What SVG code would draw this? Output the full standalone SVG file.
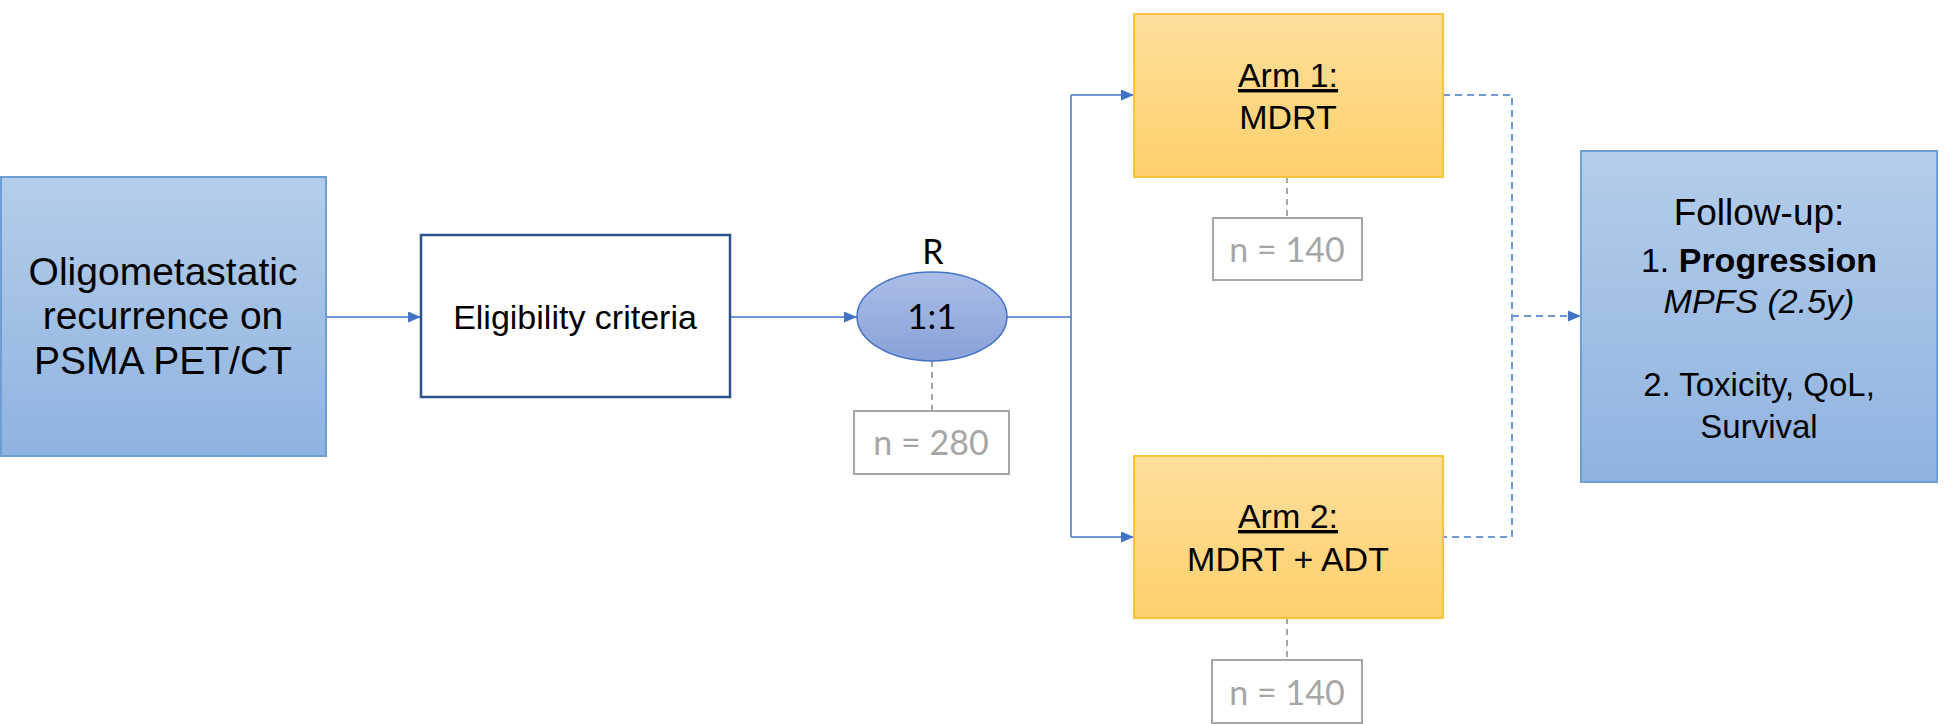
<svg xmlns="http://www.w3.org/2000/svg" width="1952" height="724" viewBox="0 0 1952 724">
<defs>
<linearGradient id="gBlue" x1="0" y1="0" x2="0" y2="1"><stop offset="0" stop-color="#b4cdea"/><stop offset="1" stop-color="#8fb3e0"/></linearGradient>
<linearGradient id="gOrange" x1="0" y1="0" x2="0" y2="1"><stop offset="0" stop-color="#ffdf9d"/><stop offset="1" stop-color="#fed06c"/></linearGradient>
<linearGradient id="gEll" x1="0" y1="0" x2="0" y2="1"><stop offset="0" stop-color="#abbee6"/><stop offset="1" stop-color="#88a1d7"/></linearGradient>
<marker id="arr" markerWidth="13" markerHeight="11" refX="13" refY="5.5" orient="auto" markerUnits="userSpaceOnUse"><path d="M0,0 L13,5.5 L0,11 Z" fill="#4472c4"/></marker>
<style>
.t{font-family:"Liberation Sans",Arial,sans-serif;fill:#000;text-anchor:middle}
.c{font-family:Lato,"Liberation Sans",sans-serif;text-anchor:middle}
.g{fill:#a6a6a6}
.conn{fill:none;stroke:#4472c4;stroke-width:1.5}
.dash{fill:none;stroke:#6d9bd0;stroke-width:2;stroke-dasharray:7 5}
.gdash{fill:none;stroke:#a6a6a6;stroke-width:2;stroke-dasharray:6 5}
.nbox{fill:#fff;stroke:#a6a6a6;stroke-width:2}
.arm{fill:url(#gOrange);stroke:#f9c33a;stroke-width:2}
</style>
</defs>
<rect width="1952" height="724" fill="#fff"/>
<g id="connectors">
<path class="conn" d="M326,317 H421" marker-end="url(#arr)"/>
<path class="conn" d="M730,317 H857" marker-end="url(#arr)"/>
<path class="conn" d="M1007,317 H1071"/>
<path class="conn" d="M1071,95 V537"/>
<path class="conn" d="M1071,95 H1134" marker-end="url(#arr)"/>
<path class="conn" d="M1071,537 H1134" marker-end="url(#arr)"/>
<path class="dash" d="M1443,95 H1512 V537 H1443"/>
<path class="dash" d="M1512,316 H1581" marker-end="url(#arr)"/>
<path class="gdash" d="M932,361 V411"/>
<path class="gdash" d="M1287,177 V218"/>
<path class="gdash" d="M1287,618 V660"/>
</g>
<g id="node-recurrence">
<rect x="1" y="177" width="325" height="279" fill="url(#gBlue)" stroke="#6d9fd3" stroke-width="2"/>
<text class="t" font-size="39" x="163" y="285">Oligometastatic</text>
<text class="t" font-size="39" x="163" y="329">recurrence on</text>
<text class="t" font-size="39" x="163" y="374">PSMA PET/CT</text>
</g>
<g id="node-eligibility">
<rect x="421" y="235" width="309" height="162" fill="#fff" stroke="#2f528f" stroke-width="2.5"/>
<text class="t" font-size="34" x="575" y="329">Eligibility criteria</text>
</g>
<g id="node-random">
<ellipse cx="932" cy="316.5" rx="75" ry="44.5" fill="url(#gEll)" stroke="#4472c4" stroke-width="1.5"/>
<text class="c" font-size="34" x="933" y="264">R</text>
<text class="c" font-size="35" x="932" y="329">1:1</text>
</g>
<g id="node-n280">
<rect class="nbox" x="854" y="411" width="155" height="63"/>
<text class="c g" font-size="34" x="931" y="455">n = 280</text>
</g>
<g id="node-arm1">
<rect class="arm" x="1134" y="14" width="309" height="163"/>
<text class="t" font-size="34" x="1288" y="87" text-decoration="underline">Arm 1:</text>
<text class="t" font-size="34" x="1288" y="129">MDRT</text>
</g>
<g id="node-n140a">
<rect class="nbox" x="1213" y="218" width="149" height="62"/>
<text class="c g" font-size="34" x="1287" y="262">n = 140</text>
</g>
<g id="node-arm2">
<rect class="arm" x="1134" y="456" width="309" height="162"/>
<text class="t" font-size="34" x="1288" y="528" text-decoration="underline">Arm 2:</text>
<text class="t" font-size="34" x="1288" y="571">MDRT + ADT</text>
</g>
<g id="node-n140b">
<rect class="nbox" x="1212" y="660" width="150" height="63"/>
<text class="c g" font-size="34" x="1287" y="705">n = 140</text>
</g>
<g id="node-followup">
<rect x="1581" y="151" width="356" height="331" fill="url(#gBlue)" stroke="#6d9fd3" stroke-width="2"/>
<text class="t" font-size="37" x="1759" y="225">Follow-up:</text>
<text class="t" font-size="34" x="1759" y="272">1. <tspan font-weight="bold">Progression</tspan></text>
<text class="t" font-size="34" x="1759" y="313" font-style="italic">MPFS (2.5y)</text>
<text class="t" font-size="33" x="1759" y="396">2. Toxicity, QoL,</text>
<text class="t" font-size="33" x="1759" y="438">Survival</text>
</g>
</svg>
